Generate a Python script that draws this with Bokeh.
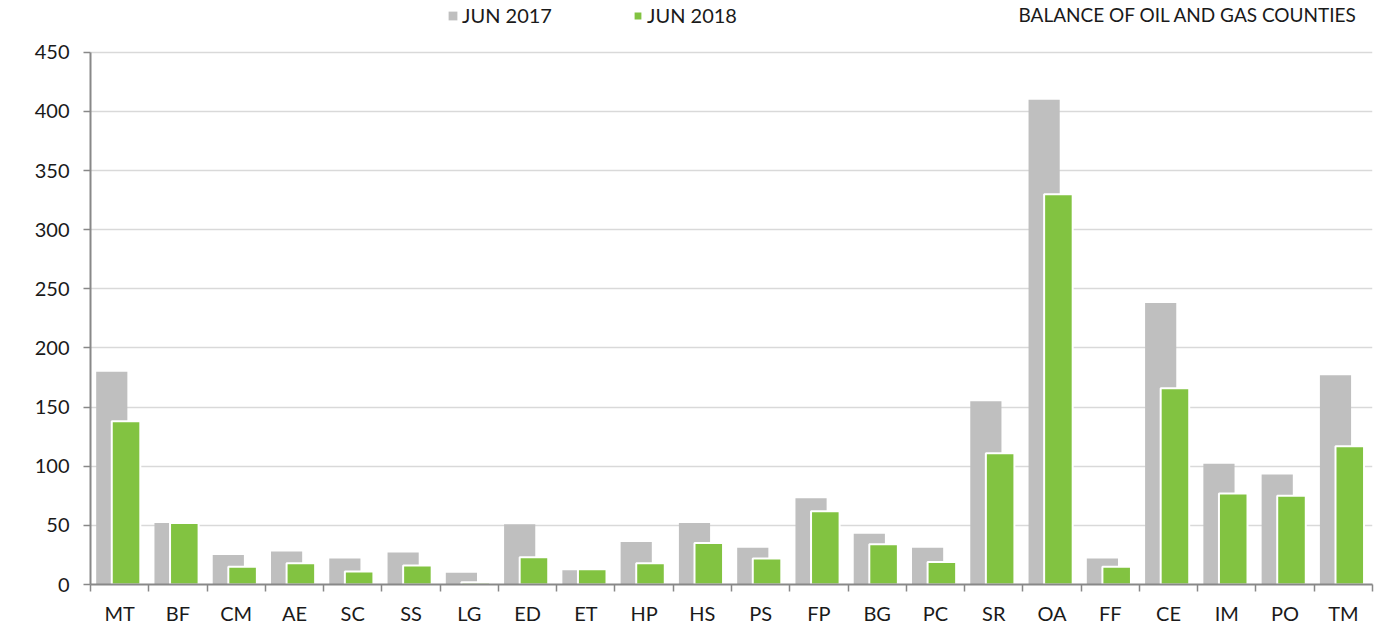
import numpy as np
from bokeh.plotting import figure
from bokeh.models import (ColumnDataSource, FixedTicker, Range1d, Legend, LegendItem, Label)
from bokeh.transform import dodge
from bokeh.embed import file_html
from bokeh.resources import INLINE

categories = ["MT", "BF", "CM", "AE", "SC", "SS", "LG", "ED", "ET", "HP", "HS",
              "PS", "FP", "BG", "PC", "SR", "OA", "FF", "CE", "IM", "PO", "TM"]
jun_2017 = [180, 52, 25, 28, 22, 27, 10, 51, 12, 36, 52,
            31, 73, 43, 31, 155, 410, 22, 238, 102, 93, 177]
jun_2018 = [138, 52, 15, 18, 11, 16, 2, 23, 13, 18, 35,
            22, 62, 34, 19, 111, 330, 15, 166, 77, 75, 117]
y_ticks = [0, 50, 100, 150, 200, 250, 300, 350, 400, 450]

FONT = "Lato"
GREY = "#bfbfbf"
GREEN = "#82c341"
TXT = "#1a1a1a"

n = len(categories)
idx = np.arange(n)
centers = (idx + 0.5).tolist()
src = ColumnDataSource(dict(xc=centers, cat=categories, v17=jun_2017, v18=jun_2018))

# frame spans the whole height above the x axis (586 px); 450 sits 52 px below its top
FRAME_H = 586
Y_MAX = 450
y_top = Y_MAX * FRAME_H / (FRAME_H - 52)

p = figure(width=1384, height=627, output_backend="svg", toolbar_location=None,
           x_range=Range1d(0, n), y_range=Range1d(0, y_top),
           min_border_left=90, min_border_right=12, min_border_top=0, min_border_bottom=41)
p.outline_line_color = None
p.background_fill_color = "white"

r17 = p.vbar(x=dodge("xc", -0.135, range=p.x_range), top="v17", width=0.535, bottom=0,
             source=src, fill_color=GREY, line_color=None)
r18 = p.vbar(x=dodge("xc", 0.11, range=p.x_range), top="v18", width=0.49, bottom=0,
             source=src, fill_color=GREEN, line_color="white", line_width=2)

# x axis
xa = p.xaxis[0]
xa.ticker = FixedTicker(ticks=centers, minor_ticks=list(range(n + 1)))
xa.major_label_overrides = {c: lab for c, lab in zip(centers, categories)}
xa.major_tick_line_color = None
xa.minor_tick_line_color = "#888888"
xa.minor_tick_line_width = 1.5
xa.minor_tick_out = 7
xa.minor_tick_in = 0
xa.axis_line_color = "#888888"
xa.axis_line_width = 2
xa.major_label_text_font = FONT
xa.major_label_text_font_size = "20px"
xa.major_label_text_color = TXT
xa.major_label_standoff = 9

# y axis
ya = p.yaxis[0]
ya.ticker = FixedTicker(ticks=y_ticks)
ya.bounds = (0, Y_MAX)
ya.minor_tick_line_color = None
ya.major_tick_line_color = "#888888"
ya.major_tick_line_width = 1.5
ya.major_tick_out = 7
ya.major_tick_in = 0
ya.axis_line_color = "#888888"
ya.axis_line_width = 2
ya.major_label_text_font = FONT
ya.major_label_text_font_size = "20px"
ya.major_label_text_color = TXT
ya.major_label_standoff = 14

p.xgrid.grid_line_color = None
p.ygrid.grid_line_color = "#d9d9d9"
p.ygrid.grid_line_width = 1.5
p.ygrid.ticker = FixedTicker(ticks=y_ticks)

for rend, lab, x in [(r17, "JUN 2017", 357), (r18, "JUN 2018", 542)]:
    lg = Legend(items=[LegendItem(label=lab, renderers=[rend])],
                location=(x, 557), orientation="horizontal",
                glyph_width=11, glyph_height=11, label_standoff=4,
                padding=0, margin=0, border_line_color=None,
                background_fill_alpha=0,
                label_text_font=FONT, label_text_font_size="20px",
                label_text_color=TXT)
    p.add_layout(lg, "center")

title = Label(x=1267, y=570, x_units="screen", y_units="screen",
              text="BALANCE OF OIL AND GAS COUNTIES", text_align="right",
              text_baseline="middle", text_font=FONT, text_font_size="19px",
              text_color=TXT)
p.add_layout(title)

open("out.html", "w").write(file_html(p, INLINE))
